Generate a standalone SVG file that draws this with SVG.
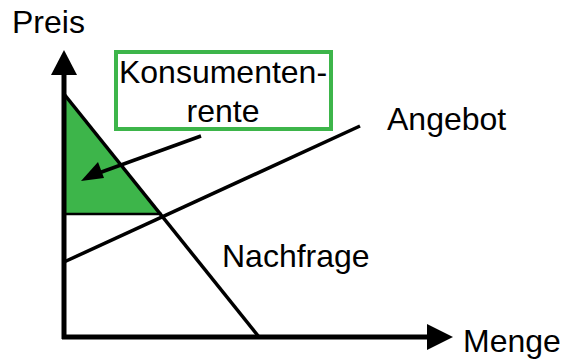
<svg xmlns="http://www.w3.org/2000/svg" width="568" height="361" viewBox="0 0 568 361">
<style>
text{font-family:"Liberation Sans",Arial,sans-serif;font-size:32px;fill:#000}
.ln{stroke:#000;fill:none;stroke-width:3.5}
.ax{stroke:#000;fill:none;stroke-width:5}
</style>
<rect width="568" height="361" fill="#fff"/>
<g id="surplus">
<polygon points="64,95 64,214 162,214" fill="#3db54a"/>
<line x1="64" y1="214" x2="162" y2="214" stroke="#000" stroke-width="2.5"/>
</g>
<g id="connectors">
<line class="ln" x1="64" y1="94" x2="259" y2="337"/>
<line class="ln" x1="64" y1="262" x2="360" y2="126"/>
<line class="ln" x1="201" y1="136" x2="96" y2="174"/>
<polygon points="81,181 98,162 104,178" fill="#000"/>
</g>
<g id="axes">
<line class="ax" x1="64" y1="339" x2="64" y2="72"/>
<polygon points="64,50 51,75 77,75" fill="#000"/>
<line class="ax" x1="62" y1="337" x2="430" y2="337"/>
<polygon points="453,337 427,324 427,350" fill="#000"/>
</g>
<g id="label-box">
<rect x="116" y="52" width="215" height="77" fill="none" stroke="#3db54a" stroke-width="4"/>
<text x="223" y="83" text-anchor="middle">Konsumenten-</text>
<text x="223" y="122" text-anchor="middle">rente</text>
</g>
<g id="labels">
<text x="12" y="33">Preis</text>
<text x="387" y="130">Angebot</text>
<text x="222" y="267">Nachfrage</text>
<text x="463" y="352">Menge</text>
</g>
</svg>
